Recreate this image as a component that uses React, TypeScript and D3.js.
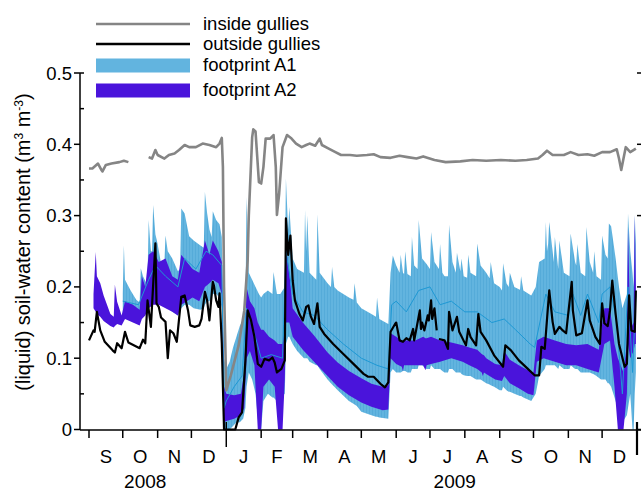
import React from "react";
import * as d3 from "d3";

// soil-water content, inside / outside gullies and the two footprints
const insideGullies: [string, number | null][] = [
  ["2008-09-01", 0.366], ["2008-09-04", 0.366], ["2008-09-09", 0.373], ["2008-09-12", 0.364],
  ["2008-09-13", 0.362], ["2008-09-16", 0.371], ["2008-09-21", 0.373], ["2008-09-28", 0.375],
  ["2008-10-02", 0.377], ["2008-10-06", 0.375], ["2008-10-15", null], ["2008-10-24", 0.382],
  ["2008-10-27", 0.38], ["2008-10-30", 0.392], ["2008-11-01", 0.385], ["2008-11-07", 0.38],
  ["2008-11-11", 0.385], ["2008-11-16", 0.387], ["2008-11-20", 0.392], ["2008-11-25", 0.399],
  ["2008-11-29", 0.396], ["2008-12-05", 0.396], ["2008-12-11", 0.401], ["2008-12-17", 0.399],
  ["2008-12-23", 0.396], ["2008-12-26", 0.401], ["2008-12-28", 0.409], ["2008-12-29", 0.368],
  ["2008-12-30", 0.2], ["2009-01-01", 0.055], ["2009-01-05", 0.076], ["2009-01-12", 0.118],
  ["2009-01-17", 0.167], ["2009-01-20", 0.237], ["2009-01-21", 0.3], ["2009-01-24", 0.41],
  ["2009-01-25", 0.421], ["2009-01-27", 0.418], ["2009-01-30", 0.347], ["2009-02-01", 0.345],
  ["2009-02-03", 0.368], ["2009-02-05", 0.408], ["2009-02-09", 0.408], ["2009-02-12", 0.413],
  ["2009-02-14", 0.368], ["2009-02-15", 0.301], ["2009-02-17", 0.331], ["2009-02-20", 0.396],
  ["2009-02-24", 0.413], ["2009-02-28", 0.408], ["2009-03-04", 0.401], ["2009-03-09", 0.396],
  ["2009-03-13", 0.399], ["2009-03-16", 0.401], ["2009-03-21", 0.398], ["2009-03-25", 0.408],
  ["2009-03-27", 0.399], ["2009-04-02", 0.394], ["2009-04-08", 0.389], ["2009-04-13", 0.385],
  ["2009-04-21", 0.385], ["2009-04-27", 0.384], ["2009-05-06", 0.385], ["2009-05-12", 0.386],
  ["2009-05-18", 0.382], ["2009-05-27", 0.381], ["2009-06-04", 0.384], ["2009-06-11", 0.382],
  ["2009-06-19", 0.38], ["2009-06-25", 0.383], ["2009-07-05", 0.378], ["2009-07-15", 0.375],
  ["2009-07-28", 0.376], ["2009-08-08", 0.378], ["2009-08-20", 0.377], ["2009-09-02", 0.378],
  ["2009-09-15", 0.377], ["2009-09-25", 0.378], ["2009-10-05", 0.38], ["2009-10-09", 0.385],
  ["2009-10-13", 0.391], ["2009-10-18", 0.385], ["2009-10-28", 0.385], ["2009-11-03", 0.389],
  ["2009-11-10", 0.385], ["2009-11-18", 0.386], ["2009-11-24", 0.384], ["2009-12-01", 0.389],
  ["2009-12-08", 0.389], ["2009-12-14", 0.393], ["2009-12-16", 0.38], ["2009-12-18", 0.364],
  ["2009-12-20", 0.38], ["2009-12-22", 0.396], ["2009-12-26", 0.389], ["2009-12-31", 0.394],
];

const outsideGullies: [string, number | null][] = [
  ["2008-09-01", 0.125], ["2008-09-05", 0.139], ["2008-09-06", 0.137], ["2008-09-08", 0.165],
  ["2008-09-11", 0.139], ["2008-09-15", 0.123], ["2008-09-22", 0.111], ["2008-09-24", 0.108],
  ["2008-09-26", 0.121], ["2008-09-30", 0.114], ["2008-10-03", 0.137], ["2008-10-06", 0.122],
  ["2008-10-16", 0.114], ["2008-10-19", 0.126], ["2008-10-21", 0.121], ["2008-10-23", 0.181],
  ["2008-10-26", 0.144], ["2008-10-30", 0.261], ["2008-10-31", 0.177], ["2008-11-02", 0.172],
  ["2008-11-04", 0.157], ["2008-11-08", 0.151], ["2008-11-10", 0.1], ["2008-11-12", 0.139],
  ["2008-11-15", 0.135], ["2008-11-18", 0.123], ["2008-11-22", 0.186], ["2008-11-25", 0.188],
  ["2008-11-28", 0.167], ["2008-11-30", 0.146], ["2008-12-04", 0.144], ["2008-12-08", 0.146],
  ["2008-12-10", 0.155], ["2008-12-13", 0.193], ["2008-12-15", 0.181], ["2008-12-17", 0.153],
  ["2008-12-20", 0.207], ["2008-12-21", 0.202], ["2008-12-23", 0.181], ["2008-12-25", 0.172],
  ["2008-12-26", 0.191], ["2008-12-28", 0.121], ["2008-12-30", 0], ["2009-01-09", 0],
  ["2009-01-12", 0.017], ["2009-01-15", 0.024], ["2009-01-18", 0.097], ["2009-01-20", 0.167],
  ["2009-01-23", 0.153], ["2009-01-26", 0.13], ["2009-01-29", 0.092], ["2009-02-01", 0.088],
  ["2009-02-04", 0.099], ["2009-02-08", 0.097], ["2009-02-11", 0.101], ["2009-02-13", 0.094],
  ["2009-02-15", 0.08], ["2009-02-19", 0.085], ["2009-02-22", 0.097], ["2009-02-23", 0.296],
  ["2009-02-25", 0.245], ["2009-02-27", 0.272], ["2009-03-01", 0.209], ["2009-03-03", 0.181],
  ["2009-03-07", 0.162], ["2009-03-10", 0.153], ["2009-03-13", 0.172], ["2009-03-15", 0.174],
  ["2009-03-17", 0.159], ["2009-03-20", 0.148], ["2009-03-23", 0.177], ["2009-03-25", 0.144],
  ["2009-03-29", 0.134], ["2009-04-06", 0.12], ["2009-04-15", 0.106], ["2009-04-24", 0.092],
  ["2009-05-03", 0.078], ["2009-05-07", 0.074], ["2009-05-12", 0.074], ["2009-05-18", 0.064],
  ["2009-05-22", 0.059], ["2009-05-25", 0.066], ["2009-05-27", 0.137], ["2009-05-31", 0.148],
  ["2009-06-01", 0.15], ["2009-06-04", 0.125], ["2009-06-07", 0.123], ["2009-06-10", 0.128],
  ["2009-06-13", 0.125], ["2009-06-16", 0.141], ["2009-06-17", 0.125], ["2009-06-22", 0.167],
  ["2009-06-23", 0.141], ["2009-06-24", 0.15], ["2009-06-26", 0.139], ["2009-06-29", 0.16],
  ["2009-06-30", 0.153], ["2009-07-02", 0.181], ["2009-07-03", 0.155], ["2009-07-05", 0.17],
  ["2009-07-07", 0.139], ["2009-07-08", null], ["2009-07-09", 0.127], ["2009-07-14", 0.125],
  ["2009-07-17", 0.113], ["2009-07-18", 0.165], ["2009-07-21", 0.139], ["2009-07-25", 0.158],
  ["2009-07-27", 0.137], ["2009-08-02", 0.118], ["2009-08-04", 0.141], ["2009-08-06", 0.13],
  ["2009-08-11", 0.118], ["2009-08-13", 0.162], ["2009-08-15", 0.137], ["2009-08-20", 0.125],
  ["2009-08-27", 0.104], ["2009-09-04", 0.088], ["2009-09-06", 0.118], ["2009-09-11", 0.111],
  ["2009-09-18", 0.097], ["2009-09-26", 0.085], ["2009-10-02", 0.076], ["2009-10-06", 0.076],
  ["2009-10-08", 0.116], ["2009-10-11", 0.113], ["2009-10-15", 0.195], ["2009-10-18", 0.151],
  ["2009-10-20", 0.134], ["2009-10-24", 0.144], ["2009-10-27", 0.139], ["2009-10-30", 0.135],
  ["2009-11-04", 0.207], ["2009-11-05", 0.167], ["2009-11-08", 0.132], ["2009-11-13", 0.135],
  ["2009-11-18", 0.181], ["2009-11-20", 0.153], ["2009-11-25", 0.13], ["2009-11-29", 0.12],
  ["2009-12-01", 0.177], ["2009-12-03", 0.149], ["2009-12-06", 0.145], ["2009-12-08", 0.167],
  ["2009-12-10", 0.209], ["2009-12-13", 0.162], ["2009-12-16", 0.12], ["2009-12-21", 0.088],
  ["2009-12-23", 0.092], ["2009-12-25", 0.188], ["2009-12-27", 0.139], ["2009-12-30", 0.137],
  ["2009-12-31", 0.195],
];

// [date, min, max]
const footprintA1: [string, number, number][] = [
  ["2008-10-01", 0.16, 0.19], ["2008-10-02", 0.16, 0.258], ["2008-10-03", 0.165, 0.21],
  ["2008-10-08", 0.16, 0.195], ["2008-10-13", 0.155, 0.182], ["2008-10-16", 0.155, 0.178],
  ["2008-10-17", 0.16, 0.226], ["2008-10-19", 0.17, 0.215], ["2008-10-22", 0.17, 0.205],
  ["2008-10-23", 0.175, 0.21], ["2008-10-24", 0.18, 0.294], ["2008-10-26", 0.18, 0.25],
  ["2008-10-27", 0.185, 0.25], ["2008-10-28", 0.19, 0.315], ["2008-10-30", 0.19, 0.274],
  ["2008-11-01", 0.185, 0.26], ["2008-11-04", 0.18, 0.233], ["2008-11-07", 0.175, 0.235],
  ["2008-11-08", 0.175, 0.272], ["2008-11-10", 0.17, 0.25], ["2008-11-14", 0.165, 0.24],
  ["2008-11-19", 0.16, 0.222], ["2008-11-21", 0.165, 0.225], ["2008-11-22", 0.17, 0.31],
  ["2008-11-25", 0.175, 0.303], ["2008-11-29", 0.175, 0.271], ["2008-12-03", 0.17, 0.265],
  ["2008-12-09", 0.168, 0.258], ["2008-12-12", 0.17, 0.255], ["2008-12-13", 0.175, 0.333],
  ["2008-12-15", 0.18, 0.303], ["2008-12-17", 0.18, 0.281], ["2008-12-19", 0.185, 0.27],
  ["2008-12-20", 0.19, 0.306], ["2008-12-23", 0.19, 0.294], ["2008-12-26", 0.185, 0.288],
  ["2008-12-28", 0.17, 0.27], ["2008-12-30", 0, 0.1], ["2009-01-01", 0, 0.085],
  ["2009-01-04", 0, 0.095], ["2009-01-07", 0.005, 0.115], ["2009-01-10", 0.01, 0.13],
  ["2009-01-13", 0.01, 0.145], ["2009-01-16", 0.015, 0.155], ["2009-01-18", 0.03, 0.165],
  ["2009-01-19", 0.06, 0.326], ["2009-01-21", 0.08, 0.22], ["2009-01-24", 0.07, 0.21],
  ["2009-01-27", 0.05, 0.2], ["2009-01-30", 0, 0.19], ["2009-02-01", 0, 0.185],
  ["2009-02-03", 0.04, 0.19], ["2009-02-07", 0.05, 0.195], ["2009-02-11", 0.045, 0.19],
  ["2009-02-12", 0.045, 0.221], ["2009-02-15", 0.04, 0.19], ["2009-02-18", 0.045, 0.19],
  ["2009-02-22", 0.05, 0.2], ["2009-02-23", 0.12, 0.352], ["2009-02-25", 0.13, 0.28],
  ["2009-02-26", 0.13, 0.312], ["2009-03-01", 0.12, 0.24], ["2009-03-05", 0.11, 0.225],
  ["2009-03-11", 0.1, 0.22], ["2009-03-12", 0.1, 0.308], ["2009-03-13", 0.1, 0.25],
  ["2009-03-14", 0.1, 0.3], ["2009-03-16", 0.095, 0.22], ["2009-03-22", 0.09, 0.21],
  ["2009-03-23", 0.09, 0.302], ["2009-03-25", 0.085, 0.22], ["2009-04-01", 0.07, 0.205],
  ["2009-04-04", 0.065, 0.2], ["2009-04-05", 0.063, 0.228], ["2009-04-07", 0.06, 0.2],
  ["2009-04-10", 0.055, 0.195], ["2009-04-20", 0.04, 0.185], ["2009-04-24", 0.036, 0.182],
  ["2009-04-25", 0.035, 0.205], ["2009-04-27", 0.033, 0.178], ["2009-05-01", 0.025, 0.17],
  ["2009-05-10", 0.02, 0.162], ["2009-05-14", 0.018, 0.158], ["2009-05-15", 0.018, 0.185],
  ["2009-05-17", 0.017, 0.155], ["2009-05-25", 0.015, 0.148], ["2009-05-27", 0.08, 0.22],
  ["2009-05-29", 0.085, 0.244], ["2009-06-01", 0.08, 0.23], ["2009-06-04", 0.08, 0.22],
  ["2009-06-05", 0.08, 0.245], ["2009-06-07", 0.082, 0.22], ["2009-06-08", 0.082, 0.218],
  ["2009-06-09", 0.082, 0.25], ["2009-06-11", 0.08, 0.218], ["2009-06-14", 0.08, 0.215],
  ["2009-06-15", 0.085, 0.27], ["2009-06-17", 0.085, 0.23], ["2009-06-20", 0.085, 0.225],
  ["2009-06-21", 0.09, 0.294], ["2009-06-24", 0.09, 0.24], ["2009-06-28", 0.085, 0.232],
  ["2009-07-01", 0.085, 0.225], ["2009-07-02", 0.09, 0.277], ["2009-07-05", 0.085, 0.235],
  ["2009-07-09", 0.085, 0.225], ["2009-07-10", 0.085, 0.26], ["2009-07-12", 0.082, 0.22],
  ["2009-07-14", 0.08, 0.215], ["2009-07-17", 0.08, 0.215], ["2009-07-18", 0.085, 0.287],
  ["2009-07-21", 0.085, 0.235], ["2009-07-24", 0.08, 0.22], ["2009-07-25", 0.08, 0.248],
  ["2009-07-28", 0.08, 0.222], ["2009-07-29", 0.078, 0.24], ["2009-07-31", 0.076, 0.215],
  ["2009-08-03", 0.075, 0.213], ["2009-08-04", 0.075, 0.245], ["2009-08-06", 0.075, 0.22],
  ["2009-08-11", 0.07, 0.215], ["2009-08-12", 0.07, 0.261], ["2009-08-15", 0.07, 0.23],
  ["2009-08-20", 0.065, 0.22], ["2009-08-23", 0.063, 0.212], ["2009-08-24", 0.062, 0.235],
  ["2009-08-27", 0.06, 0.205], ["2009-09-01", 0.055, 0.2], ["2009-09-03", 0.055, 0.195],
  ["2009-09-04", 0.06, 0.233], ["2009-09-07", 0.055, 0.205], ["2009-09-09", 0.053, 0.2],
  ["2009-09-10", 0.053, 0.22], ["2009-09-14", 0.05, 0.2], ["2009-09-19", 0.047, 0.196],
  ["2009-09-20", 0.047, 0.215], ["2009-09-22", 0.045, 0.195], ["2009-09-29", 0.04, 0.188],
  ["2009-10-03", 0.05, 0.2], ["2009-10-06", 0.075, 0.235], ["2009-10-11", 0.085, 0.24],
  ["2009-10-12", 0.09, 0.291], ["2009-10-13", 0.09, 0.25], ["2009-10-14", 0.09, 0.26],
  ["2009-10-15", 0.09, 0.291], ["2009-10-18", 0.09, 0.25], ["2009-10-19", 0.09, 0.235],
  ["2009-10-20", 0.09, 0.27], ["2009-10-23", 0.085, 0.225], ["2009-10-24", 0.09, 0.265],
  ["2009-10-28", 0.085, 0.22], ["2009-11-02", 0.085, 0.215], ["2009-11-03", 0.09, 0.275],
  ["2009-11-07", 0.085, 0.235], ["2009-11-08", 0.085, 0.23], ["2009-11-09", 0.085, 0.26],
  ["2009-11-12", 0.08, 0.22], ["2009-11-16", 0.08, 0.215], ["2009-11-17", 0.08, 0.284],
  ["2009-11-20", 0.08, 0.235], ["2009-11-23", 0.078, 0.22], ["2009-11-24", 0.077, 0.25],
  ["2009-11-26", 0.075, 0.215], ["2009-11-30", 0.07, 0.21], ["2009-12-01", 0.07, 0.272],
  ["2009-12-04", 0.07, 0.245], ["2009-12-06", 0.065, 0.24], ["2009-12-07", 0.065, 0.289],
  ["2009-12-09", 0.06, 0.285], ["2009-12-13", 0.04, 0.24], ["2009-12-16", 0.02, 0.2],
  ["2009-12-19", 0.01, 0.17], ["2009-12-23", 0.02, 0.19], ["2009-12-24", 0.03, 0.303],
  ["2009-12-26", 0.05, 0.25], ["2009-12-28", 0, 0.22], ["2009-12-29", 0, 0.2],
  ["2009-12-30", 0.05, 0.301], ["2009-12-31", 0.08, 0.26],
];

const footprintA2: [string, number, number][] = [
  ["2008-09-05", 0.17, 0.19], ["2008-09-07", 0.165, 0.249], ["2008-09-08", 0.162, 0.215],
  ["2008-09-11", 0.158, 0.205], ["2008-09-14", 0.152, 0.188], ["2008-09-20", 0.145, 0.162],
  ["2008-09-23", 0.143, 0.158], ["2008-09-24", 0.145, 0.203], ["2008-09-26", 0.148, 0.179],
  ["2008-09-30", 0.146, 0.16], ["2008-10-03", 0.155, 0.18], ["2008-10-10", 0.15, 0.175],
  ["2008-10-16", 0.146, 0.168], ["2008-10-18", 0.155, 0.215], ["2008-10-21", 0.16, 0.2],
  ["2008-10-24", 0.17, 0.245], ["2008-10-28", 0.175, 0.25], ["2008-11-02", 0.175, 0.235],
  ["2008-11-08", 0.17, 0.24], ["2008-11-14", 0.165, 0.215], ["2008-11-19", 0.16, 0.21],
  ["2008-11-22", 0.175, 0.245], ["2008-11-27", 0.18, 0.235], ["2008-12-02", 0.185, 0.225],
  ["2008-12-08", 0.18, 0.22], ["2008-12-13", 0.2, 0.265], ["2008-12-17", 0.205, 0.245],
  ["2008-12-20", 0.21, 0.265], ["2008-12-25", 0.205, 0.25], ["2008-12-28", 0.19, 0.235],
  ["2008-12-30", 0.01, 0.06], ["2009-01-01", 0.012, 0.05], ["2009-01-08", 0.015, 0.048],
  ["2009-01-14", 0.02, 0.05], ["2009-01-17", 0.03, 0.08], ["2009-01-19", 0.1, 0.2],
  ["2009-01-22", 0.11, 0.18], ["2009-01-26", 0.09, 0.17], ["2009-01-29", 0, 0.15],
  ["2009-02-01", 0, 0.14], ["2009-02-03", 0.06, 0.14], ["2009-02-08", 0.07, 0.13],
  ["2009-02-13", 0.06, 0.125], ["2009-02-16", 0, 0.12], ["2009-02-20", 0, 0.12],
  ["2009-02-22", 0.07, 0.14], ["2009-02-23", 0.15, 0.256], ["2009-02-26", 0.15, 0.22],
  ["2009-03-01", 0.13, 0.17], ["2009-03-10", 0.112, 0.15], ["2009-03-20", 0.095, 0.132],
  ["2009-04-01", 0.075, 0.108], ["2009-04-10", 0.06, 0.094], ["2009-04-20", 0.048, 0.082],
  ["2009-05-01", 0.038, 0.072], ["2009-05-10", 0.032, 0.064], ["2009-05-20", 0.027, 0.06],
  ["2009-05-25", 0.028, 0.062], ["2009-05-27", 0.1, 0.135], ["2009-06-01", 0.092, 0.13],
  ["2009-06-06", 0.088, 0.125], ["2009-06-07", 0.082, 0.124], ["2009-06-08", 0.09, 0.125],
  ["2009-06-18", 0.09, 0.125], ["2009-06-25", 0.09, 0.13], ["2009-06-27", 0.083, 0.128],
  ["2009-06-28", 0.09, 0.128], ["2009-07-02", 0.092, 0.13], ["2009-07-10", 0.095, 0.125],
  ["2009-07-20", 0.1, 0.122], ["2009-07-30", 0.095, 0.118], ["2009-08-05", 0.09, 0.115],
  ["2009-08-12", 0.085, 0.112], ["2009-08-16", 0.08, 0.106], ["2009-08-17", 0.075, 0.105],
  ["2009-08-18", 0.08, 0.104], ["2009-08-20", 0.078, 0.1], ["2009-08-28", 0.07, 0.092],
  ["2009-09-03", 0.068, 0.09], ["2009-09-05", 0.075, 0.11], ["2009-09-10", 0.065, 0.098],
  ["2009-09-18", 0.058, 0.09], ["2009-09-26", 0.05, 0.083], ["2009-10-01", 0.048, 0.08],
  ["2009-10-04", 0.095, 0.125], ["2009-10-10", 0.1, 0.13], ["2009-10-20", 0.095, 0.125],
  ["2009-10-30", 0.09, 0.12], ["2009-11-08", 0.09, 0.118], ["2009-11-18", 0.085, 0.12],
  ["2009-11-28", 0.08, 0.112], ["2009-12-03", 0.12, 0.17], ["2009-12-08", 0.125, 0.17],
  ["2009-12-12", 0.06, 0.12], ["2009-12-15", 0, 0.1], ["2009-12-20", 0, 0.08],
  ["2009-12-23", 0.05, 0.12], ["2009-12-24", 0.12, 0.284], ["2009-12-26", 0.1, 0.14],
  ["2009-12-29", 0.11, 0.15], ["2009-12-30", 0.12, 0.3], ["2009-12-31", 0.12, 0.2],
];

// thin line inside the A1 band
const footprintA1Mean: [string, number][] = [
  ["2008-10-01", 0.18], ["2008-10-15", 0.175], ["2008-10-24", 0.21], ["2008-10-30", 0.23],
  ["2008-11-08", 0.215], ["2008-11-19", 0.2], ["2008-11-25", 0.24], ["2008-12-05", 0.225],
  ["2008-12-14", 0.25], ["2008-12-20", 0.245], ["2008-12-28", 0.23], ["2008-12-30", 0.03],
  ["2009-01-01", 0.04], ["2009-01-08", 0.06], ["2009-01-15", 0.075], ["2009-01-19", 0.17],
  ["2009-01-25", 0.14], ["2009-02-01", 0.1], ["2009-02-10", 0.105], ["2009-02-20", 0.1],
  ["2009-02-23", 0.25], ["2009-03-01", 0.19], ["2009-03-10", 0.165], ["2009-03-20", 0.16],
  ["2009-04-01", 0.14], ["2009-04-15", 0.12], ["2009-05-01", 0.1], ["2009-05-15", 0.09],
  ["2009-05-25", 0.085], ["2009-05-28", 0.175], ["2009-06-01", 0.18], ["2009-06-10", 0.165],
  ["2009-06-21", 0.195], ["2009-07-01", 0.2], ["2009-07-10", 0.175], ["2009-07-20", 0.18],
  ["2009-08-01", 0.165], ["2009-08-12", 0.165], ["2009-08-25", 0.15], ["2009-09-05", 0.155],
  ["2009-09-15", 0.14], ["2009-09-28", 0.12], ["2009-10-02", 0.115], ["2009-10-12", 0.19],
  ["2009-10-20", 0.165], ["2009-11-01", 0.16], ["2009-11-05", 0.19], ["2009-11-12", 0.16],
  ["2009-11-18", 0.19], ["2009-11-28", 0.15], ["2009-12-01", 0.19], ["2009-12-08", 0.2],
  ["2009-12-14", 0.15], ["2009-12-19", 0.05], ["2009-12-24", 0.2], ["2009-12-28", 0.08],
  ["2009-12-31", 0.19],
];

const monthLabels = ["S", "O", "N", "D", "J", "F", "M", "A", "M", "J", "J", "A", "S", "O", "N", "D"];
const yearLabels: [string, string][] = [["2008", "2008-10-21"], ["2009", "2009-07-23"]];
const yTicks = [0, 0.1, 0.2, 0.3, 0.4, 0.5];
const yMinorTicks = [0.05, 0.15, 0.25, 0.35, 0.45];

const legendItems = [
  { label: "inside gullies", kind: "line", color: "#858585" },
  { label: "outside gullies", kind: "line", color: "#000000" },
  { label: "footprint A1", kind: "band", color: "#62b4df" },
  { label: "footprint A2", kind: "band", color: "#4a14db" },
];

const FONT = "'Liberation Sans', Arial, Helvetica, sans-serif";
const parse = d3.utcParse("%Y-%m-%d");

const App: React.FC = () => {
  const width = 641;
  const height = 491;

  const x = d3
    .scaleUtc()
    .domain([parse("2008-09-01")!, parse("2010-01-01")!])
    .range([89, 637]);
  const y = d3.scaleLinear().domain([0, 0.5]).range([429.5, 73]);

  const axisLeft = 80;
  const axisBottom = 430;

  const lineGen = d3
    .line<[string, number | null]>()
    .defined((d) => d[1] != null)
    .x((d) => x(parse(d[0])!))
    .y((d) => y(d[1] as number));

  const bandGen = d3
    .area<[string, number, number]>()
    .x((d) => x(parse(d[0])!))
    .y0((d) => y(d[1]))
    .y1((d) => y(d[2]));

  const monthStarts = d3.utcMonth.range(parse("2008-09-01")!, parse("2010-01-02")!);

  return (
    <svg
      width={width}
      height={height}
      style={{ position: "absolute", left: 0, top: 0, background: "#fff" }}
      fontFamily={FONT}
    >
      <defs>
        {/* faint vertical hatching, the band is drawn from many daily ranges */}
        <pattern id="a1stripes" width={3} height={10} patternUnits="userSpaceOnUse">
          <rect width={3} height={10} fill="#62b4df" />
          <rect width={1} height={10} fill="#55abd9" />
        </pattern>
      </defs>

      {/* data */}
      <path d={bandGen(footprintA1) || ""} fill="url(#a1stripes)" />
      <path d={bandGen(footprintA2) || ""} fill="#4a14db" />
      <path d={lineGen(footprintA1Mean) || ""} fill="none" stroke="#1d98d4" strokeWidth={1} />
      <path d={lineGen(insideGullies) || ""} fill="none" stroke="#858585" strokeWidth={2.6} strokeLinejoin="round" />
      <path d={lineGen(outsideGullies) || ""} fill="none" stroke="#000" strokeWidth={2.2} strokeLinejoin="round" />

      {/* y axis */}
      <line x1={axisLeft} x2={axisLeft} y1={y(0.5)} y2={axisBottom} stroke="#000" strokeWidth={1.5} />
      {yTicks.map((t) => (
        <g key={t}>
          <line x1={axisLeft - 6} x2={axisLeft} y1={y(t)} y2={y(t)} stroke="#000" strokeWidth={1.5} />
          <line x1={637} x2={641} y1={y(t)} y2={y(t)} stroke="#000" strokeWidth={1.5} />
          <text x={axisLeft - 8} y={y(t) + 6.5} textAnchor="end" fontSize={18.5}>
            {t === 0 ? "0" : t.toFixed(1)}
          </text>
        </g>
      ))}
      <line x1={axisLeft} x2={axisLeft + 4} y1={y(0.5)} y2={y(0.5)} stroke="#000" strokeWidth={1.5} />
      {yMinorTicks.map((t) => (
        <line key={t} x1={axisLeft} x2={axisLeft + 4} y1={y(t)} y2={y(t)} stroke="#000" strokeWidth={1.5} />
      ))}
      <text transform="translate(30,242) rotate(-90)" textAnchor="middle" fontSize={20}>
        (liquid) soil-water content (m
        <tspan dy={-7} fontSize={12}>3</tspan>
        <tspan dy={7}> m</tspan>
        <tspan dy={-7} fontSize={12}>-3</tspan>
        <tspan dy={7}>)</tspan>
      </text>

      {/* x axis */}
      <line x1={axisLeft} x2={641} y1={axisBottom} y2={axisBottom} stroke="#000" strokeWidth={1.5} />
      {monthStarts.map((m) => {
        const isYear = m.getUTCMonth() === 0;
        const last = m.getUTCFullYear() === 2010;
        return (
          <line
            key={+m}
            x1={x(m)}
            x2={x(m)}
            y1={isYear ? axisBottom - 8 : axisBottom}
            y2={last ? axisBottom + 25 : isYear ? axisBottom + 17 : axisBottom + 8}
            stroke="#000"
            strokeWidth={last ? 2.2 : 1.5}
          />
        );
      })}
      {monthLabels.map((lab, i) => (
        <text
          key={i}
          x={(x(monthStarts[i]) + x(monthStarts[i + 1])) / 2}
          y={463}
          textAnchor="middle"
          fontSize={18.5}
        >
          {lab}
        </text>
      ))}
      {yearLabels.map(([lab, d]) => (
        <text key={lab} x={x(parse(d)!)} y={488} textAnchor="middle" fontSize={19}>
          {lab}
        </text>
      ))}

      {/* legend */}
      {legendItems.map((it, i) => {
        const cy = [24, 44, 65.5, 90.5][i];
        return (
          <g key={it.label}>
            {it.kind === "line" ? (
              <line x1={96} x2={190} y1={cy} y2={cy} stroke={it.color} strokeWidth={2.4} />
            ) : (
              <rect x={96} y={cy - 7} width={94} height={14} fill={it.color} />
            )}
            <text x={203} y={cy + 5.5} fontSize={18.5}>
              {it.label}
            </text>
          </g>
        );
      })}
    </svg>
  );
};

export default App;
